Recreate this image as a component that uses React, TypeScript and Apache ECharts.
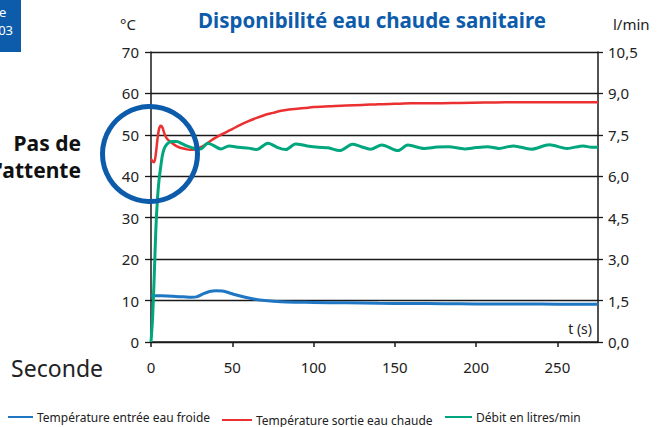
import React, { useEffect, useRef } from "react";
import * as echarts from "echarts";

const seriesNames = [
  "Température entrée eau froide",
  "Température sortie eau chaude",
  "Débit en litres/min",
];

const xTicks = [0, 50, 100, 150, 200, 250];

// Cold water inlet temperature (°C)
const coldTime = [0, 5, 10, 15, 20, 25, 28, 32, 36, 40, 44, 48, 52, 58, 64, 70, 80, 90, 100, 120, 140, 160, 180, 200, 220, 240, 260, 275];
const coldTemp = [11.2, 11.15, 11.1, 11.0, 10.9, 10.8, 10.9, 11.6, 12.2, 12.4, 12.3, 11.9, 11.4, 10.8, 10.3, 10.0, 9.7, 9.6, 9.55, 9.45, 9.35, 9.3, 9.25, 9.2, 9.2, 9.15, 9.1, 9.1];

// Hot water outlet temperature (°C)
const hotTime = [0, 1, 2, 3, 4, 5, 6, 7, 8, 9, 10, 12, 14, 16, 18, 20, 22, 24, 26, 28, 30, 34, 38, 42, 46, 50, 55, 60, 65, 70, 75, 80, 85, 90, 95, 100, 110, 120, 130, 140, 150, 160, 175, 190, 205, 218, 230, 245, 260, 275];
const hotTemp = [44.2, 43.6, 43.4, 45.5, 49, 51.5, 52.2, 51.8, 50.6, 49.6, 49.0, 48.3, 47.7, 47.2, 46.9, 46.7, 46.5, 46.4, 46.4, 46.6, 46.9, 47.8, 48.9, 49.8, 50.6, 51.4, 52.4, 53.3, 54.1, 54.8, 55.3, 55.8, 56.1, 56.3, 56.5, 56.7, 56.9, 57.1, 57.2, 57.4, 57.5, 57.6, 57.6, 57.7, 57.8, 57.9, 57.9, 57.9, 57.9, 57.9];

// Flow rate (l/min)
const flowTime = [0, 1, 2, 3, 4, 5, 6, 7, 8, 9, 11, 13, 16, 19, 22, 25, 28, 31, 35, 38, 43, 48, 54, 60, 65, 72, 78, 83, 89, 96, 103, 109, 116, 124, 129, 135, 142, 152, 158, 168, 176, 183, 193, 200, 207, 214, 223, 234, 245, 256, 266, 271, 275];
const flowRate = [0, 0.9, 2.4, 4.1, 5.2, 5.9, 6.35, 6.75, 6.98, 7.1, 7.22, 7.26, 7.26, 7.18, 7.1, 7.04, 6.99, 7.0, 7.2, 7.13, 6.99, 7.1, 7.05, 7.02, 6.97, 7.2, 7.04, 6.97, 7.17, 7.1, 7.05, 7.03, 6.93, 7.16, 7.08, 6.98, 7.13, 6.93, 7.13, 7.01, 7.06, 7.07, 6.99, 7.04, 7.07, 7.01, 7.1, 6.98, 7.14, 7.01, 7.1, 7.05, 7.05];

const BLUE = "#0d5cab";
const FONT = "'Noto Sans', sans-serif";
const INK = "#1a1a1a";

function pairs(t: number[], v: number[]) {
  return t.map((x, i) => [x, v[i]]);
}

export default function App() {
  const ref = useRef<HTMLDivElement>(null);
  useEffect(() => {
    if (!ref.current) return;
    const chart = echarts.init(ref.current, undefined, { renderer: "svg" });
    const legendBase = {
      orient: "horizontal",
      icon: "rect",
      itemHeight: 2,
      itemGap: 5,
      padding: 0,
      textStyle: { fontSize: 12, color: "#222", fontFamily: FONT, padding: [0, 0, 0, -1] },
    };
    chart.setOption({
      animation: false,
      textStyle: { fontFamily: FONT },
      grid: { left: 151, right: 66, top: 52, bottom: 85, containLabel: false },
      legend: [
        { ...legendBase, data: [seriesNames[0]], left: 8, top: 411, itemWidth: 25 },
        { ...legendBase, data: [seriesNames[1]], left: 222, top: 414, itemWidth: 30 },
        { ...legendBase, data: [seriesNames[2]], left: 445, top: 411, itemWidth: 27 },
      ],
      xAxis: {
        type: "value",
        min: 0,
        max: 275,
        interval: 50,
        axisLine: { show: true, lineStyle: { color: INK, width: 1.5 } },
        axisTick: { show: true, length: 5, lineStyle: { color: INK, width: 1.5 } },
        splitLine: { show: false },
        axisLabel: {
          fontSize: 15,
          color: "#222",
          margin: 17,
          showMaxLabel: false,
          formatter: (v: number) => (xTicks.includes(v) ? String(v) : ""),
        },
      },
      yAxis: [
        {
          type: "value",
          min: 0,
          max: 70,
          interval: 10,
          axisLine: { show: true, lineStyle: { color: INK, width: 1.5 } },
          axisTick: { show: true, length: 6, lineStyle: { color: INK, width: 1.3 } },
          splitLine: { show: true, lineStyle: { color: INK, width: 1.3 } },
          axisLabel: { fontSize: 15, color: "#222", margin: 12 },
        },
        {
          type: "value",
          position: "right",
          min: 0,
          max: 10.5,
          interval: 1.5,
          axisLine: { show: true, lineStyle: { color: INK, width: 1.5 } },
          axisTick: { show: true, length: 5, lineStyle: { color: INK, width: 1.3 } },
          splitLine: { show: false },
          axisLabel: {
            fontSize: 15,
            color: "#222",
            margin: 10,
            formatter: (v: number) => v.toFixed(1).replace(".", ","),
          },
        },
      ],
      series: [
        {
          name: seriesNames[0],
          type: "line",
          yAxisIndex: 0,
          data: pairs(coldTime, coldTemp),
          symbol: "none",
          smooth: 0.3,
          lineStyle: { color: "#1f77c4", width: 3 },
          itemStyle: { color: "#1f77c4" },
          z: 3,
        },
        {
          name: seriesNames[1],
          type: "line",
          yAxisIndex: 0,
          data: pairs(hotTime, hotTemp),
          symbol: "none",
          smooth: 0.3,
          lineStyle: { color: "#ea3030", width: 2.5 },
          itemStyle: { color: "#ea3030" },
          z: 4,
        },
        {
          name: seriesNames[2],
          type: "line",
          yAxisIndex: 1,
          data: pairs(flowTime, flowRate),
          symbol: "none",
          smooth: 0.3,
          lineStyle: { color: "#00a67e", width: 3 },
          itemStyle: { color: "#00a67e" },
          z: 5,
        },
      ],
      graphic: [
        { type: "rect", left: 0, top: 0, shape: { width: 21, height: 52 }, style: { fill: BLUE } },
        {
          type: "text",
          x: 13,
          y: 3,
          style: { text: "e  \n03", fill: "#fff", font: `13px ${FONT}`, lineHeight: 18, textAlign: "right", textVerticalAlign: "top" },
        },
        {
          type: "text",
          x: 372,
          y: 20,
          style: { text: "Disponibilité eau chaude sanitaire", fill: BLUE, font: `bold 20.5px ${FONT}`, textAlign: "center", textVerticalAlign: "middle" },
        },
        { type: "text", x: 136, y: 24, style: { text: "°C", fill: "#222", font: `15px ${FONT}`, textAlign: "right", textVerticalAlign: "middle" } },
        { type: "text", x: 613, y: 24, style: { text: "l/min", fill: "#222", font: `15px ${FONT}`, textAlign: "left", textVerticalAlign: "middle" } },
        { type: "text", x: 592, y: 328, style: { text: "t (s)", fill: "#222", font: `14px ${FONT}`, textAlign: "right", textVerticalAlign: "middle" } },
        { type: "text", x: 103, y: 368, style: { text: "Seconde", fill: "#222", font: `23px ${FONT}`, textAlign: "right", textVerticalAlign: "middle" } },
        {
          type: "text",
          x: 81,
          y: 156,
          style: { text: "Pas de\nl'attente", fill: "#111", font: `bold 21px ${FONT}`, lineHeight: 27, textAlign: "right", textVerticalAlign: "middle" },
        },
        {
          type: "circle",
          z: 100,
          shape: { cx: 150, cy: 154, r: 47.5 },
          style: { fill: "none", stroke: BLUE, lineWidth: 5 },
        },
      ],
    });
    return () => chart.dispose();
  }, []);
  return <div ref={ref} style={{ width: 664, height: 427, position: "absolute", left: 0, top: 0 }} />;
}
